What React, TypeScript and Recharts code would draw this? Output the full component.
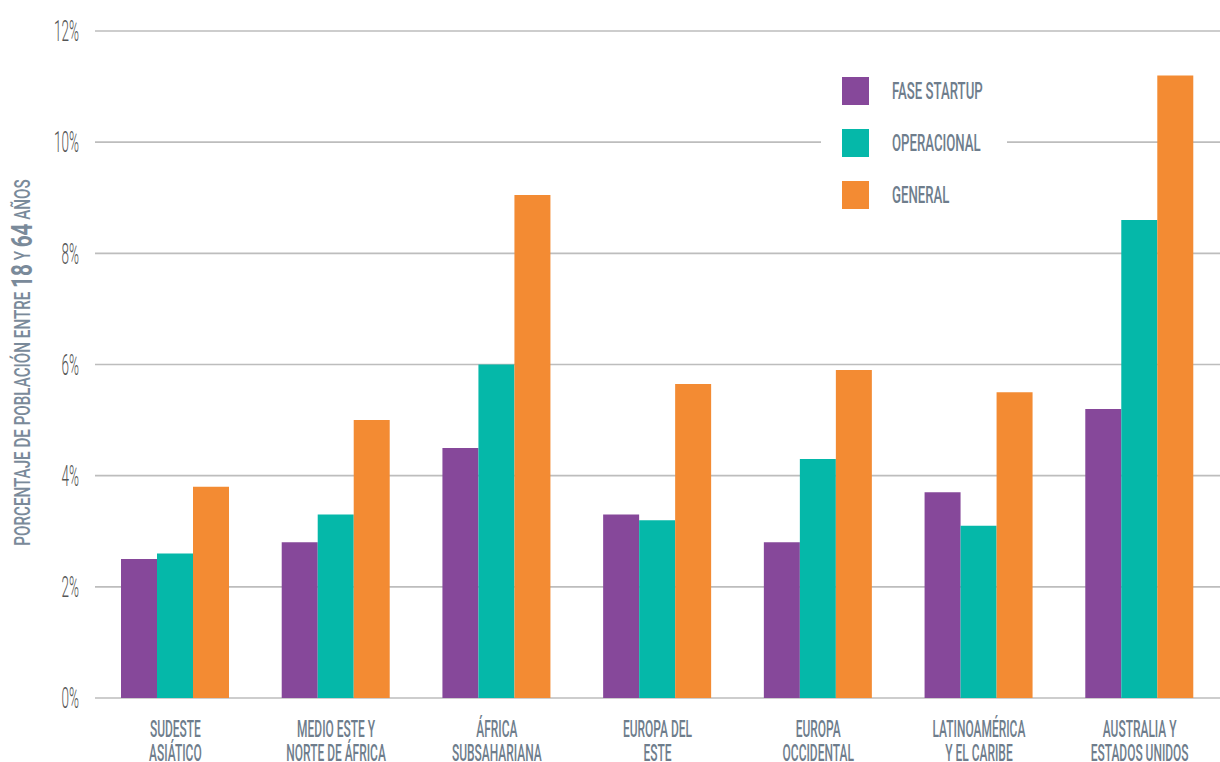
import { Bar, BarChart, CartesianGrid, Label, Legend, XAxis, YAxis } from 'recharts';

const categories = [
  'Sudeste asiático',
  'Medio Este y Norte de África',
  'África Subsahariana',
  'Europa del Este',
  'Europa Occidental',
  'Latinoamérica y el Caribe',
  'Australia y Estados Unidos',
];

// two-line axis labels, one pair per category
const categoryLines = [
  ['SUDESTE', 'ASIÁTICO'],
  ['MEDIO ESTE Y', 'NORTE DE ÁFRICA'],
  ['ÁFRICA', 'SUBSAHARIANA'],
  ['EUROPA DEL', 'ESTE'],
  ['EUROPA', 'OCCIDENTAL'],
  ['LATINOAMÉRICA', 'Y EL CARIBE'],
  ['AUSTRALIA Y', 'ESTADOS UNIDOS'],
];

const faseStartup = [2.5, 2.8, 4.5, 3.3, 2.8, 3.7, 5.2];
const operacional = [2.6, 3.3, 6.0, 3.2, 4.3, 3.1, 8.6];
const general = [3.8, 5.0, 9.05, 5.65, 5.9, 5.5, 11.2];

const yTicks = [0, 2, 4, 6, 8, 10, 12];

const seriesNames = ['FASE STARTUP', 'OPERACIONAL', 'GENERAL'];
const seriesColors = ['#86489a', '#05b8a9', '#f38b33'];

const data = categories.map((name, i) => ({
  name,
  startup: faseStartup[i],
  operacional: operacional[i],
  general: general[i],
}));

const LABEL_FONT = 'Roboto, "DejaVu Sans", sans-serif';
const LABEL_COLOR = '#6e7d8c';

const XTick = ({ x, y, payload }: any) => {
  const idx = categories.indexOf(payload.value);
  const lines = categoryLines[idx] || [payload.value];
  return (
    <g transform={`translate(${x},${y})`}>
      {lines.map((line, i) => (
        <text
          key={i}
          transform={`translate(0,${31 + i * 24}) scale(0.52,1)`}
          textAnchor="middle"
          fill={LABEL_COLOR}
          fontFamily={LABEL_FONT}
          fontWeight={500}
          fontSize={23}
        >
          {line}
        </text>
      ))}
    </g>
  );
};

const YTick = ({ x, y, payload }: any) => (
  <g transform={`translate(${x},${y})`}>
    <text
      transform="scale(0.45,1)"
      textAnchor="end"
      dominantBaseline="central"
      fill="#555"
      fontFamily={LABEL_FONT}
      fontWeight={300}
      fontSize={30}
    >
      {`${payload.value}%`}
    </text>
  </g>
);

const YTitle = ({ viewBox }: any) => {
  const cy = viewBox.y + viewBox.height / 2 - 2;
  return (
    <g transform={`translate(22,${cy}) rotate(-90)`}>
      <text
        transform="scale(0.69,1)"
        textAnchor="middle"
        dominantBaseline="central"
        fill="#7a8a9a"
        fontFamily={LABEL_FONT}
        fontWeight={500}
        fontSize={22}
      >
        PORCENTAJE DE POBLACIÓN ENTRE{' '}
        <tspan fontSize={30} fontWeight={700}>18</tspan> Y{' '}
        <tspan fontSize={30} fontWeight={700}>64</tspan> AÑOS
      </text>
    </g>
  );
};

// legend keeps the series order, not the alphabetical one
const renderLegend = ({ payload }: any) => {
  const items = seriesNames
    .map((n) => (payload || []).find((p: any) => p.value === n))
    .filter(Boolean);
  return (
    <div style={{ background: '#fff', padding: '12px 0 12px 21px' }}>
      {items.map((entry: any) => (
        <div key={entry.value} style={{ display: 'flex', alignItems: 'center', height: 52 }}>
          <span style={{ width: 28, height: 28, background: entry.color, display: 'inline-block' }} />
          <svg width={120} height={30} style={{ marginLeft: 23 }}>
            <text
              x={0}
              y={15}
              transform="scale(0.55,1)"
              dominantBaseline="central"
              fill={LABEL_COLOR}
              fontFamily={LABEL_FONT}
              fontWeight={500}
              fontSize={24}
            >
              {entry.value}
            </text>
          </svg>
        </div>
      ))}
    </div>
  );
};

export default function App() {
  return (
    <div style={{ position: 'absolute', left: 0, top: 0, background: '#fff' }}>
      <BarChart
        width={1220}
        height={762}
        data={data}
        margin={{ top: 31, right: 0, bottom: 34, left: 0 }}
        barGap={0}
        barSize={36}
      >
        <CartesianGrid
          vertical={false}
          stroke="#bdbdbd"
          strokeWidth={1.6}
          horizontalValues={yTicks}
        />
        <XAxis
          dataKey="name"
          height={30}
          axisLine={false}
          tickLine={false}
          tick={<XTick />}
          interval={0}
        />
        <YAxis
          width={95}
          domain={[0, 12]}
          ticks={yTicks}
          axisLine={false}
          tickLine={false}
          tickMargin={10}
          tick={<YTick />}
        >
          <Label content={<YTitle />} />
        </YAxis>
        <Legend
          layout="vertical"
          align="center"
          verticalAlign="middle"
          content={renderLegend}
          wrapperStyle={{ left: 821, top: 53, width: 186 }}
        />
        <Bar dataKey="startup" name={seriesNames[0]} fill={seriesColors[0]} isAnimationActive={false} />
        <Bar dataKey="operacional" name={seriesNames[1]} fill={seriesColors[1]} isAnimationActive={false} />
        <Bar dataKey="general" name={seriesNames[2]} fill={seriesColors[2]} isAnimationActive={false} />
      </BarChart>
    </div>
  );
}
